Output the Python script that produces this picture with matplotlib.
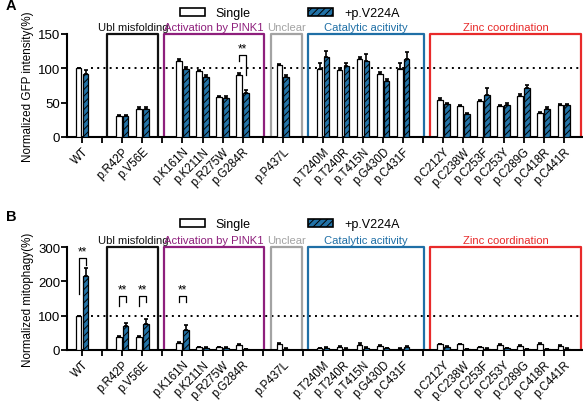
import numpy as np
import matplotlib
matplotlib.use("Agg")
import matplotlib.pyplot as plt
from matplotlib.patches import Patch

plt.rcParams['font.family'] = ['Liberation Sans', 'DejaVu Sans']
plt.rcParams['hatch.linewidth'] = 0.7

# ---- data ----
slots = ["WT", "", "p.R42P", "p.V56E", "", "p.K161N", "p.K211N", "p.R275W", "p.G284R", "",
         "p.P437L", "", "p.T240M", "p.T240R", "p.T415N", "p.G430D", "p.C431F", "",
         "p.C212Y", "p.C238W", "p.C253F", "p.C253Y", "p.C289G", "p.C418R", "p.C441R"]
variants = [s for s in slots if s]

gfp_single = [100, 30, 41, 110, 96, 58, 90, 105, 99, 98, 114, 91, 99, 54, 45, 52, 45, 59, 35, 46]
gfp_single_err = [0, 1.5, 2, 3, 2, 1.5, 3, 1.5, 8, 3, 2, 3, 8, 2, 2, 2, 2, 3, 2, 2]
gfp_v224a = [92, 30, 41, 99, 87, 56, 64, 87, 116, 103, 111, 82, 114, 48, 33, 61, 46, 71, 40, 46]
gfp_v224a_err = [5, 1.5, 2, 3, 3, 3, 4, 3, 9, 4, 10, 2, 10, 2, 2, 10, 3, 4, 4, 2]

mito_single = [100, 39, 39, 20, 8, 8, 14, 16, 5, 10, 15, 12, 4, 16, 16, 8, 15, 11, 18, 12]
mito_single_err = [0, 3, 3, 4, 2, 2, 3, 5, 1, 2, 4, 3, 1, 2, 2, 2, 3, 2, 2, 3]
mito_v224a = [217, 71, 75, 59, 6, 7, 3, 4, 6, 4, 7, 5, 8, 9, 2, 4, 6, 3, 3, 4]
mito_v224a_err = [22, 8, 15, 15, 2, 2, 1, 2, 2, 1, 2, 1, 3, 2, 1, 1, 1, 1, 1, 1]

groups = ["Ubl misfolding", "Activation by PINK1", "Unclear", "Catalytic acitivity", "Zinc coordination"]
group_colors = ["#111111", "#8e1f7c", "#a3a3a3", "#1f6fa6", "#e82a2a"]
group_spans = [(1.25, 3.8), (4.1, 9.05), (9.4, 10.95), (11.25, 17.05), (17.35, 24.85)]

sig_A = ["p.G284R"]
sig_B = ["WT", "p.R42P", "p.V56E", "p.K161N"]

bar_color = "#2272a6"

fig = plt.figure(figsize=(5.83, 4.02), dpi=100)
axA = fig.add_axes([0.115, 0.657, 0.883, 0.256])
axB = fig.add_axes([0.115, 0.127, 0.883, 0.256])

xpos = np.array([i for i, s in enumerate(slots) if s])
w = 0.28
off = 0.17


def draw(ax, single, serr, dbl, derr, ymax, yticks, ylabel, sig, br):
    ax.bar(xpos - off, single, w, color="white", edgecolor="black", linewidth=0.9, zorder=3)
    ax.bar(xpos + off, dbl, w, color=bar_color, edgecolor="black", linewidth=0.9,
           hatch="/////", zorder=3)
    ax.errorbar(xpos - off, single, yerr=[np.zeros(len(serr)), serr], fmt="none",
                ecolor="black", elinewidth=1.2, capsize=1.5, capthick=1.2, zorder=4)
    ax.errorbar(xpos + off, dbl, yerr=[np.zeros(len(derr)), derr], fmt="none",
                ecolor="black", elinewidth=1.2, capsize=1.5, capthick=1.2, zorder=4)
    ax.set_xlim(-0.75, 24.9)
    ax.set_ylim(0, ymax)
    ax.set_yticks(yticks)
    ax.tick_params(axis="y", labelsize=9.5, width=1.3, length=4, pad=1)
    ax.set_xticks(range(len(slots)))
    ax.set_xticklabels(slots, rotation=45, ha="right", rotation_mode="anchor", fontsize=8.3)
    ax.tick_params(axis="x", width=1.3, length=4, pad=2)
    for s in ["top", "right"]:
        ax.spines[s].set_visible(False)
    for s in ["left", "bottom"]:
        ax.spines[s].set_linewidth(1.5)
    ax.set_ylabel(ylabel, fontsize=8.4, labelpad=3)
    ax.plot([0.45, 24.9], [100, 100], color="black", linestyle=(0, (1, 2.2)), linewidth=1.4,
            zorder=2, clip_on=False)
    for (a, b), c, g in zip(group_spans, group_colors, groups):
        ax.plot([a, a, b, b], [ymax * 0.02, ymax, ymax, ymax * 0.02], color=c, linewidth=1.6,
                clip_on=False, zorder=2)
        ax.text((a + b) / 2, ymax * 1.065, g, color=c, ha="center", va="center", fontsize=8.1)
    for name in sig:
        i = variants.index(name)
        x = xpos[i]
        top, lb, rb = br[name]
        ax.plot([x - off, x - off, x + off, x + off], [lb, top, top, rb], color="black",
                linewidth=0.9, clip_on=False, zorder=5)
        ax.text(x, top + ymax * 0.005, "**", ha="center", va="bottom", fontsize=8.5)


draw(axA, gfp_single, gfp_single_err, gfp_v224a, gfp_v224a_err, 150, [0, 50, 100, 150],
     "Normalized GFP intensity(%)", sig_A, {"p.G284R": (119, 111, 90)})
draw(axB, mito_single, mito_single_err, mito_v224a, mito_v224a_err, 300, [0, 100, 200, 300],
     "Normalized mitophagy(%)", sig_B,
     {"WT": (268, 163, 248), "p.R42P": (157, 128, 140), "p.V56E": (157, 128, 140),
      "p.K161N": (157, 140, 140)})

for ypos, lab in [(0.984, "A"), (0.46, "B")]:
    fig.text(0.01, ypos, lab, fontsize=10.5, fontweight="bold", ha="left", va="center")

for ypos in [0.965, 0.44]:
    h1 = Patch(facecolor="white", edgecolor="black", linewidth=1.2)
    h2 = Patch(facecolor=bar_color, edgecolor="black", linewidth=1.2, hatch="/////")
    fig.legend([h1, h2], ["Single", "+p.V224A"], loc="center", bbox_to_anchor=(0.497, ypos),
               ncol=2, frameon=False, fontsize=9.0, handlelength=2.0, handleheight=0.6,
               columnspacing=4.6, handletextpad=0.9)

fig.savefig("out.png", dpi=100)
